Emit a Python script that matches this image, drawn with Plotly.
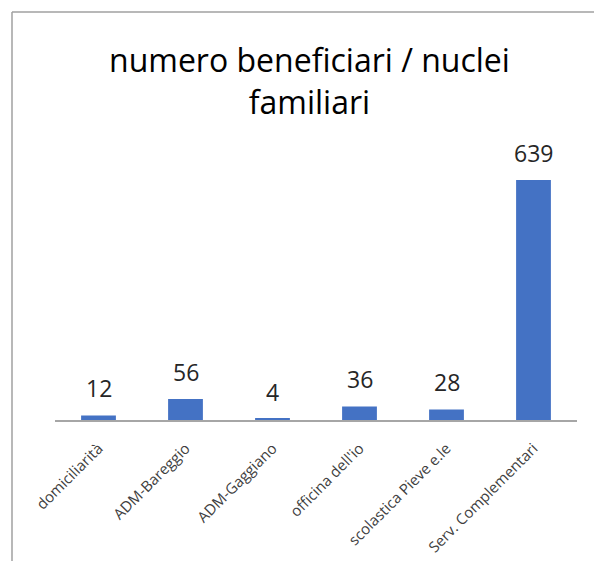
import plotly.graph_objects as go

categories = ["domiciliarità", "ADM-Bareggio", "ADM-Gaggiano", "officina dell'io",
              "scolastica Pieve e.le", "Serv. Complementari"]
values = [12, 56, 4, 36, 28, 639]
title_text = "numero beneficiari / nuclei<br>familiari"

W, H = 594, 561
L, R, T, B = 55, 17, 157, 141
pw = W - L - R
ph = H - T - B
ymax = 700

def px_x(x):
    return (x - L) / pw

def px_y(y):
    return (H - B - y) / ph

fig = go.Figure()
fig.add_trace(go.Bar(
    x=categories, y=values,
    marker=dict(color="#4472C4", line=dict(width=0)),
    width=0.4,
    hoverinfo="x+y",
))

for c, v in zip(categories, values):
    fig.add_annotation(x=c, y=v, text=str(v), showarrow=False,
                       yanchor="bottom", yshift=9,
                       font=dict(family="Open Sans", size=23, color="#262626"))

fig.add_annotation(xref="paper", yref="paper", x=px_x(309), y=px_y(80),
                   text=title_text, showarrow=False, xanchor="center", yanchor="middle",
                   font=dict(family="Open Sans", size=32, color="#000000"))

# chart border (cropped frame)
fig.add_shape(type="line", xref="paper", yref="paper",
              x0=px_x(12), x1=px_x(12), y0=px_y(12), y1=px_y(H + 5),
              line=dict(color="#a0a0a0", width=1.5))
fig.add_shape(type="line", xref="paper", yref="paper",
              x0=px_x(12), x1=px_x(W + 5), y0=px_y(12), y1=px_y(12),
              line=dict(color="#a0a0a0", width=1.5))

fig.update_layout(
    width=W, height=H,
    margin=dict(l=L, r=R, t=T, b=B, autoexpand=False),
    paper_bgcolor="white", plot_bgcolor="white",
    showlegend=False,
    xaxis=dict(showline=True, linecolor="#a6a6a6", linewidth=1.5, ticks="",
               tickangle=-45, automargin=False, ticklabelstandoff=12,
               tickfont=dict(family="Open Sans", size=15, color="#404040"),
               showgrid=False, zeroline=False),
    yaxis=dict(range=[0, ymax], visible=False, showgrid=False, zeroline=False,
               automargin=False),
)

fig.write_html("out.html", config={"displayModeBar": False},
               post_script="document.body.style.margin='0';document.body.style.overflow='hidden';")
